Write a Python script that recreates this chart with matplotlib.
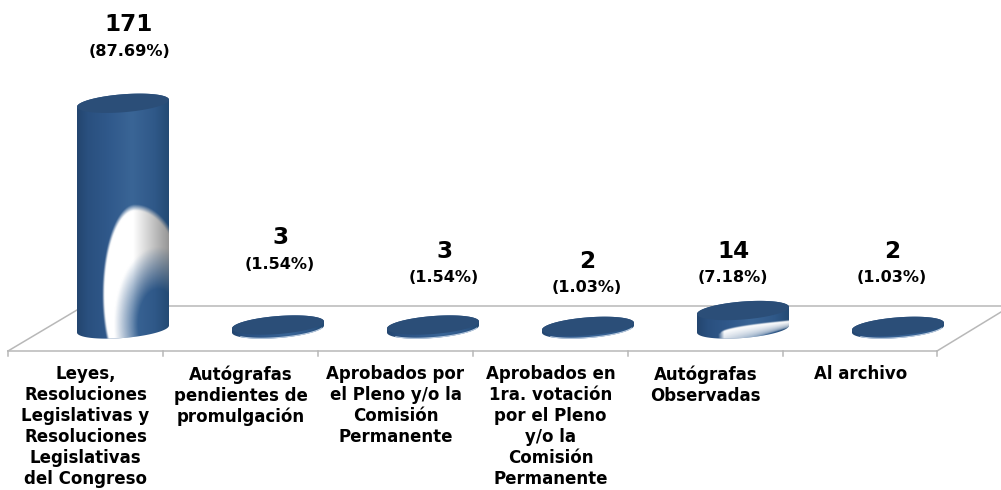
import numpy as np
import matplotlib.pyplot as plt
from matplotlib.colors import LinearSegmentedColormap
from matplotlib.patches import Polygon

categories = ['Leyes,\nResoluciones\nLegislativas y\nResoluciones\nLegislativas\ndel Congreso',
              'Autógrafas\npendientes de\npromulgación',
              'Aprobados por\nel Pleno y/o la\nComisión\nPermanente',
              'Aprobados en\n1ra. votación\npor el Pleno\ny/o la\nComisión\nPermanente',
              'Autógrafas\nObservadas',
              'Al archivo']
values = [171, 3, 3, 2, 14, 2]
percents = ['(87.69%)', '(1.54%)', '(1.54%)', '(1.03%)', '(7.18%)', '(1.03%)']

# label positions in pixels of the picture
value_label_x = [129, 280, 444, 587, 733, 892]
value_label_y = [25, 238, 251, 261, 251, 251]

PX = 155.0    # pixels per category
PY = 1.32     # pixels per unit of value
X0 = 123.0    # pixel of the first category centre
Y0 = 329.0    # pixel of value zero
A, B, S = 46.0, 9.0, 3.5   # ellipse half width, half height, tilt

def to_x(p):
    return (np.asarray(p, dtype=float) - X0) / PX

def to_y(p):
    return (Y0 - np.asarray(p, dtype=float)) / PY

def ellipse(i, v, t):
    return i + A * np.cos(t) / PX, v + (B * np.sin(t) + S * np.cos(t)) / PY

fig = plt.figure(figsize=(10.01, 4.9), dpi=100)
ax = fig.add_axes([0, 0, 1, 1])
ax.axis('off')

# floor of the chart
line_col = '#b8b8b8'
ax.plot(to_x([8, 937]), to_y([351.5, 351.5]), color=line_col, lw=1.1)
ax.plot(to_x([8, 77]), to_y([351, 310]), color=line_col, lw=1.1)
ax.plot(to_x([937, 1001]), to_y([351, 312]), color=line_col, lw=1.1)
ax.plot(to_x([165, 1001]), to_y([306.5, 306.5]), color=line_col, lw=1.1)
for k in range(len(values) + 1):
    tx = 8 + k * 155 - (1 if k == len(values) else 0)
    ax.plot(to_x([tx, tx]), to_y([351, 356]), color=line_col, lw=1.1)

side_cmap = LinearSegmentedColormap.from_list('side', [
    (0.0, '#23456f'), (0.12, '#2a507f'), (0.35, '#30598b'), (0.6, '#3a6596'),
    (0.85, '#2f5888'), (1.0, '#234a73')])
grad = np.linspace(0, 1, 256).reshape(1, -1)

def highlight_tall(cx, ytop, ybot):
    xs = np.arange(cx - A - 1, cx + A + 1, 0.5)
    ys = np.arange(ytop, ybot, 0.5)
    gx, gy = np.meshgrid(xs, ys)
    rx = np.where(gx < cx + 12, 33.0, 52.0)
    d1 = np.sqrt(((gx - (cx + 12)) / rx) ** 2 + ((gy - 295) / 90.0) ** 2)
    d2 = np.sqrt(((gx - (cx + 35)) / 40.0) ** 2 + ((gy - 325) / 70.0) ** 2)
    a = np.clip((1.0 - d1) / 0.07, 0, 1) * np.clip((d2 - 0.5) / 0.6, 0, 1)
    g = np.clip((gx - (cx + 10)) / 36.0, 0, 1)
    img = np.ones(gx.shape + (4,))
    img[..., 0] = 1 - 0.42 * g
    img[..., 1] = 1 - 0.42 * g
    img[..., 2] = 1 - 0.42 * g
    img[..., 3] = a
    return img, xs, ys

def highlight_disc(cx, ytop, ybot):
    xs = np.arange(cx - A - 1, cx + A + 1, 0.5)
    ys = np.arange(ytop, ybot, 0.5)
    gx, gy = np.meshgrid(xs, ys)
    u = np.clip((gx - (cx - 23)) / 70.0, 0, 1)
    edge = 335 - 13 * u ** 0.5
    a = np.clip((gy - edge) / 1.5 + 1, 0, 1) * np.clip(1 - (gy - edge) / (6 + 14 * (1 - u)), 0, 1) ** 0.4
    a = a * np.clip((gx - (cx - 25)) / 6.0, 0, 1)
    img = np.ones(gx.shape + (4,))
    img[..., 3] = a
    return img, xs, ys

t_front = np.linspace(np.pi, 2 * np.pi, 80)
t_back = np.linspace(0, np.pi, 80)
t_all = np.linspace(0, 2 * np.pi, 160)

for i, v in enumerate(values):
    bx, by = ellipse(i, 0, t_front)
    tx, ty = ellipse(i, v, t_back)
    side = Polygon(np.column_stack([np.r_[bx, tx], np.r_[by, ty]]), closed=True, fc='none', ec='none')
    ax.add_patch(side)
    left, right = i - A / PX, i + A / PX
    low = -(B + S + 1) / PY
    high = v + (B + S + 1) / PY
    im = ax.imshow(grad, cmap=side_cmap, extent=(left, right, low, high), aspect='auto', zorder=2)
    im.set_clip_path(side)

    cx = X0 + i * PX
    hl = None
    if v > 100:
        hl = highlight_tall(cx, 200, 340)
    elif v > 10:
        hl = highlight_disc(cx, 315, 340)
    if hl is not None:
        img, xs, ys = hl
        im2 = ax.imshow(img, extent=(to_x(xs[0]), to_x(xs[-1]), to_y(ys[-1]), to_y(ys[0])),
                        aspect='auto', zorder=3, interpolation='bilinear')
        im2.set_clip_path(side)
    elif v < 5:
        # thin light rim under the small discs
        rx, ry = ellipse(i, 0, np.linspace(1.2 * np.pi, 1.9 * np.pi, 60))
        ax.plot(rx, ry + 0.4 / PY, color='#b9cbe0', lw=0.8, zorder=3)

    ex, ey = ellipse(i, v, t_all)
    ax.fill(ex, ey, color='#2b4e78', lw=0, zorder=4)

    ax.text(to_x(value_label_x[i]), to_y(value_label_y[i]), str(v), ha='center', va='center',
            fontsize=16.7, fontweight='bold', color='black', zorder=5)
    ax.text(to_x(value_label_x[i]), to_y(value_label_y[i] + 26.5), percents[i], ha='center', va='center',
            fontsize=11.6, fontweight='bold', color='black', zorder=5)

    ax.text(to_x(85.5 + i * 155), to_y(365), categories[i], ha='center', va='top',
            fontsize=12, fontweight='bold', color='black', linespacing=1.22, zorder=5)

ax.set_xlim(to_x(0), to_x(1001))
ax.set_ylim(to_y(490), to_y(0))

plt.savefig('out.png', dpi=100)
